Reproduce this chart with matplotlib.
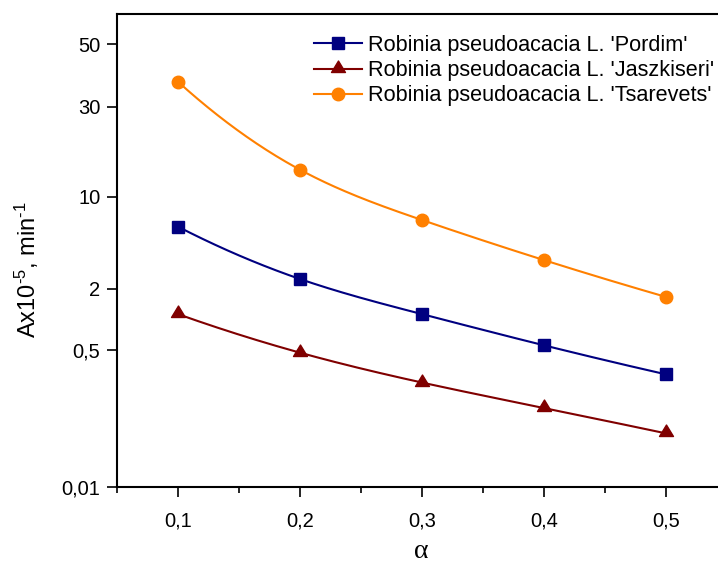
import numpy as np
import matplotlib.pyplot as plt
from matplotlib.lines import Line2D
from matplotlib.path import Path
from matplotlib.ticker import FixedLocator, MultipleLocator

plt.rcParams['font.family'] = ['Liberation Sans', 'DejaVu Sans']
plt.rcParams['mathtext.fontset'] = 'custom'
plt.rcParams['mathtext.rm'] = 'Liberation Sans'
plt.rcParams['mathtext.it'] = 'Liberation Sans:italic'

# ---- data ----
alpha = [0.1, 0.2, 0.3, 0.4, 0.5]
pordim = [5.93, 2.38, 1.13, 0.556, 0.249]
jaszkiseri = [1.13, 0.463, 0.197, 0.095, 0.046]
tsarevets = [36.8, 13.9, 6.66, 3.31, 1.67]

labels = ["Robinia pseudoacacia L. 'Pordim'",
          "Robinia pseudoacacia L. 'Jaszkiseri'",
          "Robinia pseudoacacia L. 'Tsarevets'"]
colors = ['#000080', '#800000', '#ff8000']

# triangle sitting with its base just under the data point
tri = Path([(0, 8.5), (-7, -3), (7, -3), (0, 8.5)],
           [Path.MOVETO, Path.LINETO, Path.LINETO, Path.CLOSEPOLY])
markers = ['s', tri, 'o']
msizes = [8, 12.2, 9]

y_ticks = [0.01, 0.5, 2, 10, 30, 50]
y_tick_labels = ['0,01', '0,5', '2', '10', '30', '50']
x_ticks = [0.1, 0.2, 0.3, 0.4, 0.5]
x_tick_labels = ['0,1', '0,2', '0,3', '0,4', '0,5']

# custom axis: piecewise linear in log10(value) between these breakpoints
scale_vals = [0.01, 0.5, 2, 10, 30, 50, 64]
scale_pos = [0.0, 136.7, 197.7, 290.0, 380.0, 442.4, 472.7]

lv = np.log10(scale_vals)
sp = np.array(scale_pos)


def fwd(y):
    l = np.log10(np.clip(np.asarray(y, dtype=float), 1e-12, None))
    out = np.interp(l, lv, sp)
    lo = l < lv[0]
    hi = l > lv[-1]
    out = np.where(lo, sp[0] + (l - lv[0]) * (sp[1] - sp[0]) / (lv[1] - lv[0]), out)
    out = np.where(hi, sp[-1] + (l - lv[-1]) * (sp[-1] - sp[-2]) / (lv[-1] - lv[-2]), out)
    return out


def inv(p):
    p = np.asarray(p, dtype=float)
    l = np.interp(p, sp, lv)
    lo = p < sp[0]
    hi = p > sp[-1]
    l = np.where(lo, lv[0] + (p - sp[0]) * (lv[1] - lv[0]) / (sp[1] - sp[0]), l)
    l = np.where(hi, lv[-1] + (p - sp[-1]) * (lv[-1] - lv[-2]) / (sp[-1] - sp[-2]), l)
    return 10 ** l


def spline(x, y, xs):
    """Cubic spline, end segments keep the curvature of their neighbours."""
    x = np.asarray(x, float)
    y = np.asarray(y, float)
    n = len(x)
    h = np.diff(x)
    s = np.diff(y) / h
    A = np.zeros((n, n))
    rhs = np.zeros(n)
    A[0, :2] = [1, -1]
    A[-1, -2:] = [-1, 1]
    for i in range(1, n - 1):
        A[i, i - 1] = h[i - 1]
        A[i, i] = 2 * (h[i - 1] + h[i])
        A[i, i + 1] = h[i]
        rhs[i] = 6 * (s[i] - s[i - 1])
    M = np.linalg.solve(A, rhs)
    i = np.clip(np.searchsorted(x, xs) - 1, 0, n - 2)
    a = x[i + 1] - xs
    b = xs - x[i]
    return (M[i] * a ** 3 / (6 * h[i]) + M[i + 1] * b ** 3 / (6 * h[i])
            + (y[i] / h[i] - M[i] * h[i] / 6) * a
            + (y[i + 1] / h[i] - M[i + 1] * h[i] / 6) * b)


fig = plt.figure(figsize=(7.18, 5.62), dpi=100)
W, H = 718, 562
ax = fig.add_axes([117 / W, (H - 486.7) / H, (727 - 117) / W, 472.7 / H])
ax.set_yscale('function', functions=(fwd, inv))

xs = np.linspace(alpha[0], alpha[-1], 200)
handles = []
for vals, col, mk, ms in zip([pordim, jaszkiseri, tsarevets], colors, markers, msizes):
    curve = inv(spline(alpha, fwd(vals), xs))
    ax.plot(xs, curve, color=col, lw=1.5, zorder=2)
    ax.plot(alpha, vals, linestyle='none', marker=mk, ms=ms, color=col, zorder=3)
    handles.append(Line2D([], [], color=col, lw=1.5, marker=mk, ms=ms))

ax.set_xlim(0.05, 0.55)
ax.set_ylim(0.01, 64)

ax.xaxis.set_major_locator(FixedLocator(x_ticks))
ax.set_xticklabels(x_tick_labels)
ax.xaxis.set_minor_locator(MultipleLocator(0.05))
ax.yaxis.set_major_locator(FixedLocator(y_ticks))
ax.yaxis.set_minor_locator(FixedLocator([]))
ax.set_yticklabels(y_tick_labels)

ax.tick_params(axis='both', which='major', direction='out', length=7, width=1.2,
               labelsize=14.5, pad=5)
ax.tick_params(axis='x', which='minor', direction='out', length=4, width=1.2)
ax.tick_params(axis='x', which='major', pad=11)
for s in ax.spines.values():
    s.set_linewidth(1.5)

# axis titles
fig.text(27 / W, 1 - 270 / H, 'Ax10$^{\\text{-5}}$, min$^{\\text{-1}}$', fontsize=17,
         rotation=90, ha='center', va='center')
fig.text(421 / W, 1 - 551 / H, 'α', fontsize=20, ha='center', va='center',
         family=['Liberation Serif', 'DejaVu Serif'])

ax.legend(handles, labels, loc='upper left', bbox_to_anchor=(303 / W, 1 - 24 / H),
          bbox_transform=fig.transFigure, frameon=False, fontsize=15.6,
          handlelength=2.2, handletextpad=0.3, labelspacing=0.2, borderpad=0)

fig.savefig('out.png', dpi=100)
